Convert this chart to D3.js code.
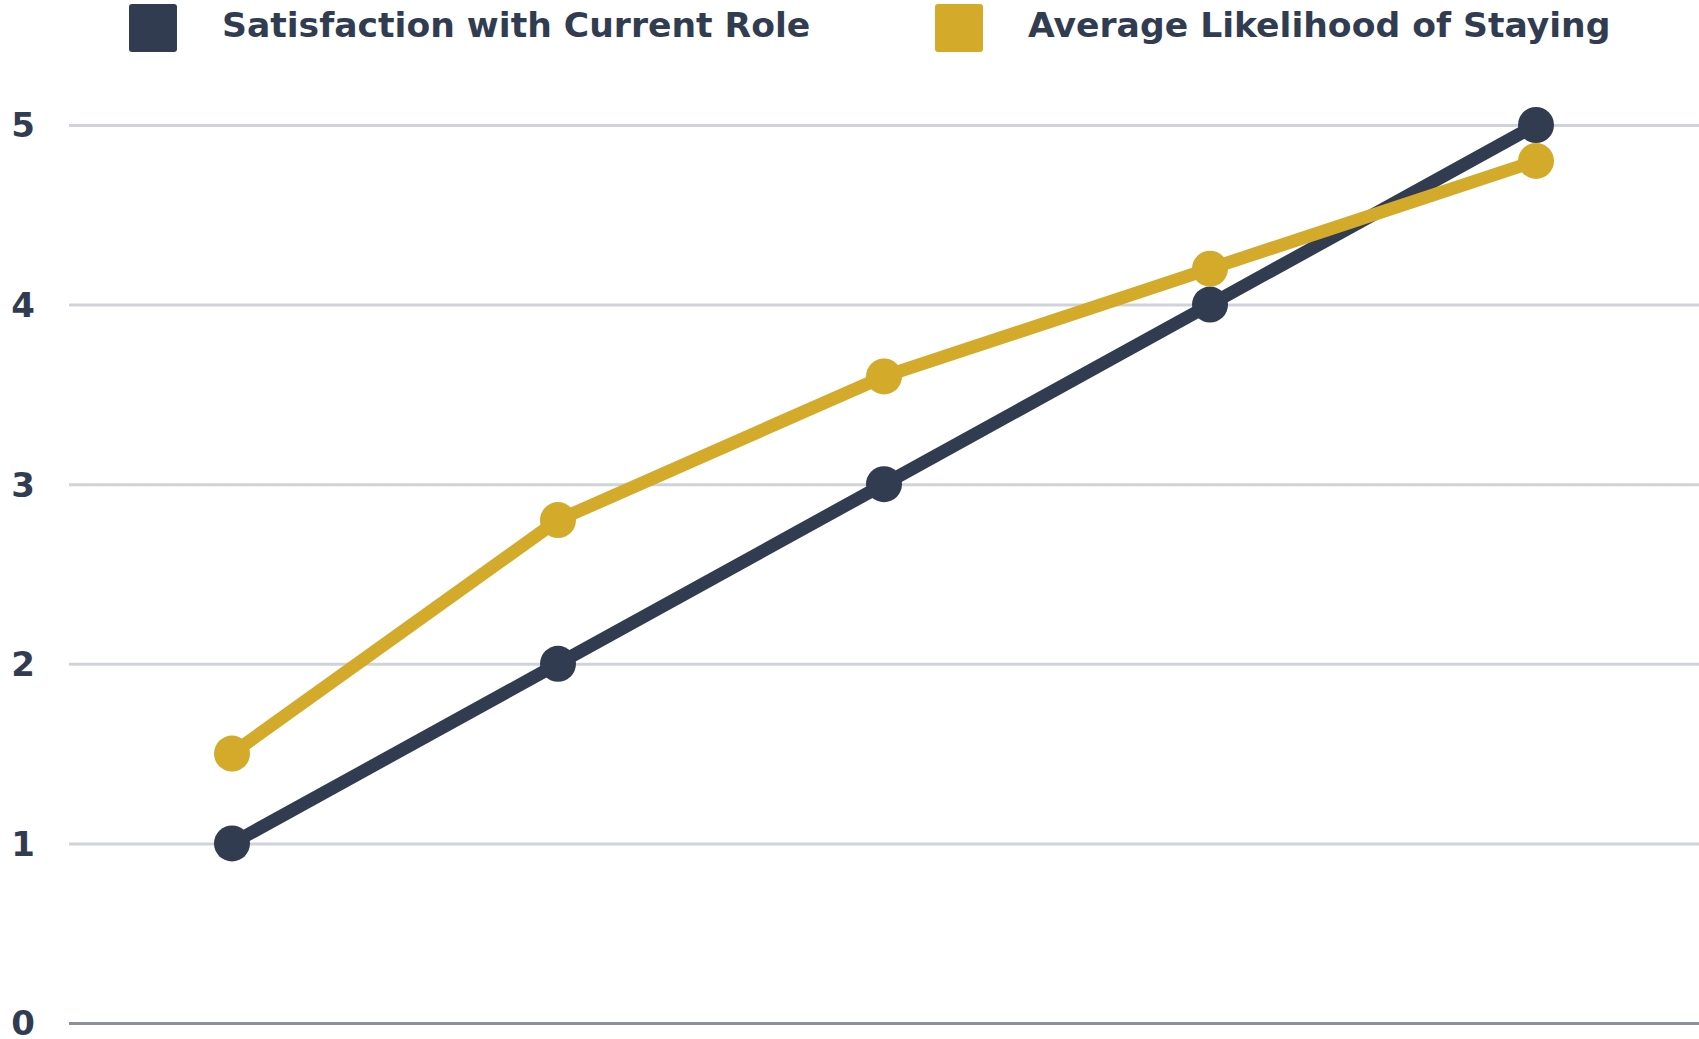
<!DOCTYPE html>
<html>
<head>
<meta charset="utf-8">
<script src="https://cdn.jsdelivr.net/npm/d3@7"></script>
<style>
  html, body { margin: 0; padding: 0; background: #ffffff; }
  svg { display: block; }
  text { font-family: "DejaVu Sans", sans-serif; font-weight: bold; fill: #313c51; }
</style>
</head>
<body>
<svg id="chart" width="1699" height="1039"></svg>
<script>
const categories = ["1", "2", "3", "4", "5"];
const satisfaction = [1, 2, 3, 4, 5];
const likelihood = [1.5, 2.8, 3.6, 4.2, 4.8];
const seriesNames = ["Satisfaction with Current Role", "Average Likelihood of Staying"];
const seriesColors = ["#313c51", "#d3aa2a"];
const yTicks = [0, 1, 2, 3, 4, 5];

(function () {
const svg = d3.select("#chart");
const plotLeft = 69, plotRight = 1699, plotTop = 125, plotBottom = 1023;

const x = d3.scalePoint().domain(categories).range([plotLeft, plotRight]).padding(0.5);
const y = d3.scaleLinear().domain([0, 5]).range([plotBottom, plotTop]);

// grid lines
const yAxis = d3.axisLeft(y).tickValues(yTicks).tickSize(-(plotRight - plotLeft)).tickFormat(d3.format("d")).tickPadding(34);
const gy = svg.append("g").attr("transform", `translate(${plotLeft},0)`).call(yAxis);
gy.select(".domain").remove();
gy.selectAll(".tick line")
  .attr("stroke", d => d === 0 ? "#8a909c" : "#d0d3d9")
  .attr("stroke-width", 3);
gy.selectAll(".tick text")
  .attr("font-size", 34)
  .attr("font-family", "DejaVu Sans, sans-serif")
  .attr("font-weight", "bold")
  .attr("fill", "#313c51")
  .attr("text-anchor", "end")
  .attr("dy", "0.35em");

// series
const series = [satisfaction, likelihood];
const line = d3.line().x((d, i) => x(categories[i])).y(d => y(d));
series.forEach((vals, si) => {
  const g = svg.append("g");
  g.append("path")
    .datum(vals)
    .attr("d", line)
    .attr("fill", "none")
    .attr("stroke", seriesColors[si])
    .attr("stroke-width", 13)
    .attr("stroke-linejoin", "round");
  g.selectAll("circle")
    .data(vals)
    .join("circle")
    .attr("cx", (d, i) => x(categories[i]))
    .attr("cy", d => y(d))
    .attr("r", 18)
    .attr("fill", seriesColors[si]);
});

// legend
const legendX = [129, 935];
const legend = svg.append("g");
seriesNames.forEach((name, i) => {
  legend.append("rect")
    .attr("x", legendX[i]).attr("y", 4)
    .attr("width", 48).attr("height", 48)
    .attr("rx", 3)
    .attr("fill", seriesColors[i]);
  legend.append("text")
    .attr("x", legendX[i] + 93).attr("y", 37)
    .attr("font-size", 34.6)
    .text(name);
});
})();
</script>
</body>
</html>
